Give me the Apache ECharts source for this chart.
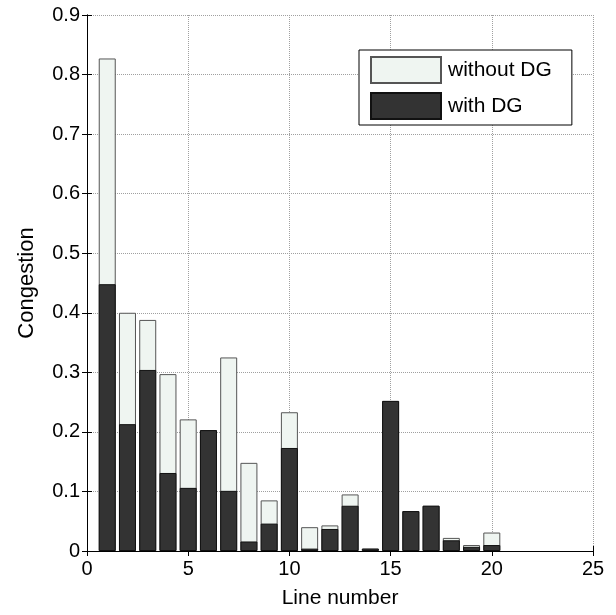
<!DOCTYPE html>
<html><head><meta charset="utf-8">
<script src="https://cdn.jsdelivr.net/npm/echarts@6/dist/echarts.min.js"></script>
<style>html,body{margin:0;padding:0;background:#fff}#c{width:616px;height:615px}</style>
</head><body><div id="c"></div>
<script>
const lines = [1,2,3,4,5,6,7,8,9,10,11,12,13,14,15,16,17,18,19,20];
const withoutDG = [0.827,0.400,0.388,0.297,0.221,0.203,0.325,0.148,0.085,0.233,0.040,0.043,0.095,0.004,0.252,0.067,0.076,0.022,0.010,0.031];
const withDG    = [0.448,0.213,0.304,0.131,0.106,0.203,0.101,0.016,0.046,0.173,0.004,0.037,0.076,0.004,0.252,0.067,0.076,0.018,0.007,0.010];
const seriesNames = ['without DG','with DG'];

const font = 'Liberation Sans, Arial, sans-serif';
const chart = echarts.init(document.getElementById('c'));
const grid = {left:87, right:23, top:15, bottom:64};
const gridLine = {show:true, lineStyle:{color:'#a0a0a0', type:[1,1], width:1}};
chart.setOption({
  animation:false,
  backgroundColor:'#fff',
  grid: grid,
  legend: {
    orient:'vertical', left:359, top:50,
    padding:[6,20,5,11], itemGap:8,
    itemWidth:70, itemHeight:26,
    backgroundColor:'#fff', borderColor:'#000', borderWidth:1,
    textStyle:{fontFamily:font, fontSize:21, color:'#000', padding:[0,0,0,2]},
    data: seriesNames.map(n=>({name:n, icon:'rect'}))
  },
  xAxis: [{
    type:'value', min:0, max:25, interval:5, position:'bottom',
    name:'Line number', nameLocation:'middle', nameGap:37,
    nameTextStyle:{fontFamily:font, fontSize:21, color:'#000'},
    axisLine:{onZero:false, lineStyle:{color:'#000', width:1}},
    axisTick:{inside:true, length:5, lineStyle:{color:'#000'}},
    axisLabel:{fontFamily:font, fontSize:20, color:'#000', margin:8},
    splitLine:gridLine
  },{
    type:'value', min:0, max:25, interval:5, position:'top',
    axisLine:{show:true, lineStyle:{color:'#000', width:1}},
    axisTick:{inside:true, length:5, lineStyle:{color:'#000'}},
    axisLabel:{show:false}, splitLine:{show:false}
  }],
  yAxis: [{
    type:'value', min:0, max:0.9, interval:0.1, position:'left',
    name:'Congestion', nameLocation:'middle', nameGap:49,
    nameTextStyle:{fontFamily:font, fontSize:22, color:'#000'},
    axisLine:{show:true, onZero:false, lineStyle:{color:'#000', width:1}},
    axisTick:{show:true, inside:true, length:5, lineStyle:{color:'#000'}},
    axisLabel:{fontFamily:font, fontSize:20, color:'#000', margin:7,
      formatter:v=>String(Math.round(v*10)/10)},
    splitLine:gridLine
  },{
    type:'value', min:0, max:0.9, interval:0.1, position:'right',
    axisLine:{show:true, lineStyle:{color:'#000', width:1}},
    axisTick:{show:true, inside:true, length:5, lineStyle:{color:'#000'}},
    axisLabel:{show:false}, splitLine:{show:false}
  }],
  series: [{
    name:seriesNames[0], type:'bar', barWidth:17, barGap:'-100%',
    itemStyle:{color:'#eff5f1', borderColor:'#555', borderWidth:1},
    data: lines.map((x,i)=>[x, withoutDG[i]])
  },{
    name:seriesNames[1], type:'bar', barWidth:17, barGap:'-100%',
    itemStyle:{color:'#333333', borderColor:'#111', borderWidth:1},
    data: lines.map((x,i)=>[x, withDG[i]])
  }]
});
</script></body></html>
